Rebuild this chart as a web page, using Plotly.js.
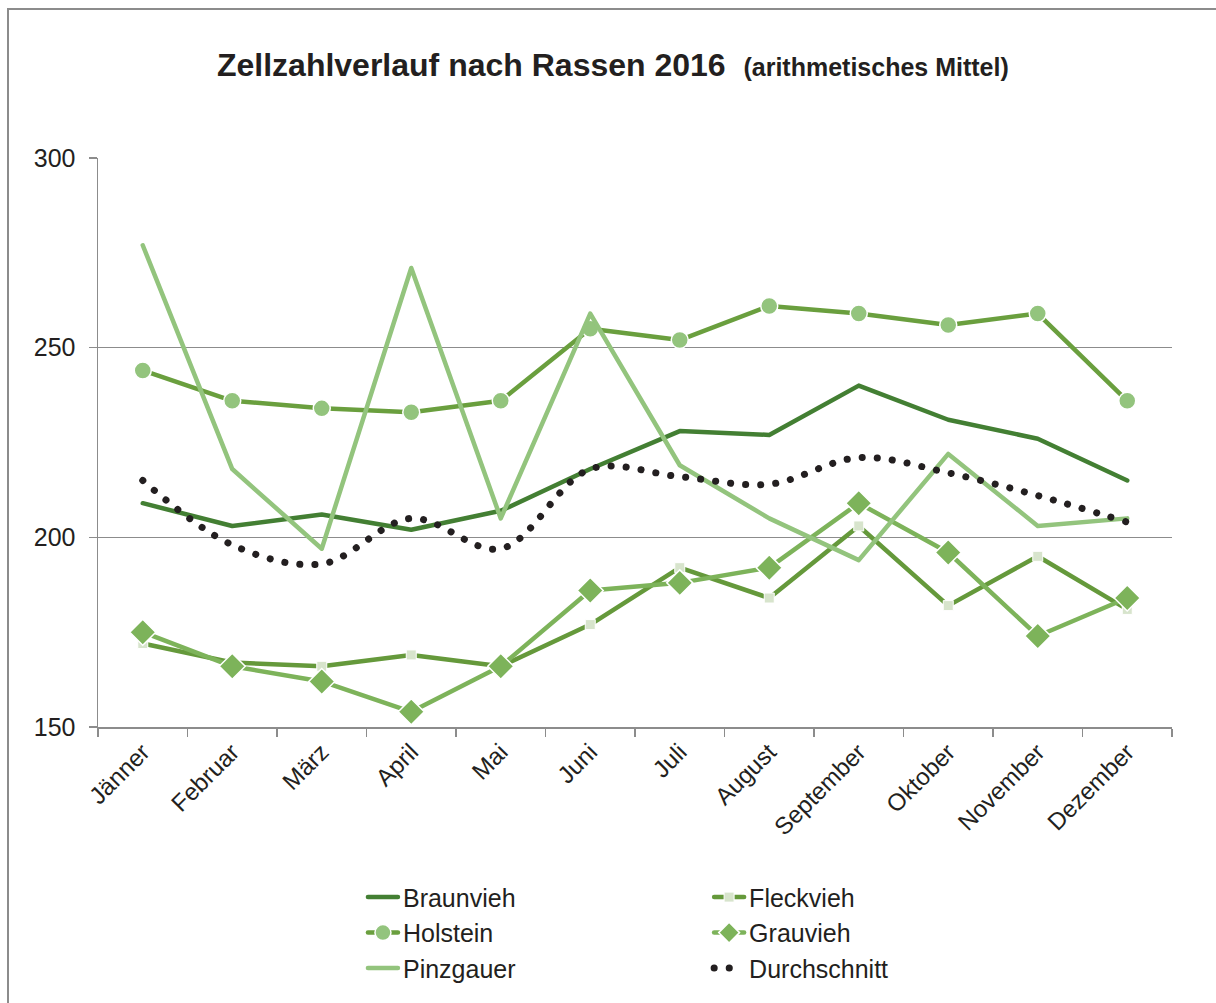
<!DOCTYPE html>
<html>
<head>
<meta charset="utf-8">
<script src="https://cdn.plot.ly/plotly-3.0.1.min.js"></script>
<style>
  html, body { margin: 0; padding: 0; background: #ffffff; }
  #wrap { position: relative; width: 1216px; height: 1003px; }
  #chart { position: absolute; left: 0; top: 0; width: 1216px; height: 1003px; }
  #frame { position: absolute; left: 7px; top: 8px; width: 1220px; height: 1010px;
           border-top: 2px solid #8c8c8c; border-left: 2px solid #8c8c8c; pointer-events: none; }
  .js-line { stroke-linecap: round !important; stroke-linejoin: round !important; }
</style>
</head>
<body>
<div id="wrap">
  <div id="chart"></div>
  <div id="frame"></div>
</div>
<script>
const months = ["Jänner","Februar","März","April","Mai","Juni","Juli","August","September","Oktober","November","Dezember"];

const braunvieh    = [209, 203, 206, 202, 207, 218, 228, 227, 240, 231, 226, 215];
const fleckvieh    = [172, 167, 166, 169, 166, 177, 192, 184, 203, 182, 195, 181];
const holstein     = [244, 236, 234, 233, 236, 255, 252, 261, 259, 256, 259, 236];
const grauvieh     = [175, 166, 162, 154, 166, 186, 188, 192, 209, 196, 174, 184];
const pinzgauer    = [277, 218, 197, 271, 205, 259, 219, 205, 194, 222, 203, 205];
const durchschnitt = [215, 198, 193, 205, 197, 218, 216, 214, 221, 217, 211, 204];

const font = "Liberation Sans, Arial, sans-serif";
const txt = "#231f20";
const grid = "#8c8c8c";

const traces = [
  { name: "Braunvieh", x: months, y: braunvieh, mode: "lines",
    line: { color: "#437f33", width: 4.5 }, legend: "legend" },
  { name: "Fleckvieh", x: months, y: fleckvieh, mode: "lines+markers",
    line: { color: "#65993b", width: 4.5 },
    marker: { symbol: "square", size: 10, color: "#d7e4cc", line: { color: "#ffffff", width: 1 } },
    legend: "legend2" },
  { name: "Holstein", x: months, y: holstein, mode: "lines+markers",
    line: { color: "#6a9f3e", width: 4.5 },
    marker: { symbol: "circle", size: 17, color: "#93c47d", line: { color: "#ffffff", width: 1.5 } },
    legend: "legend" },
  { name: "Grauvieh", x: months, y: grauvieh, mode: "lines+markers",
    line: { color: "#7db35a", width: 4.5 },
    marker: { symbol: "diamond", size: 20, color: "#7db35a", line: { color: "#ffffff", width: 1.5 } },
    legend: "legend2" },
  { name: "Pinzgauer", x: months, y: pinzgauer, mode: "lines",
    line: { color: "#93c47d", width: 4.5 }, legend: "legend" },
  { name: "Durchschnitt", x: months, y: durchschnitt, mode: "lines",
    line: { color: "#231f20", width: 7, dash: "0.1px,15px", shape: "spline", smoothing: 1 },
    legend: "legend2" }
];

const legendCommon = {
  orientation: "v", xanchor: "left", yanchor: "top",
  font: { family: font, size: 25, color: txt },
  bgcolor: "rgba(0,0,0,0)", tracegroupgap: 0, itemwidth: 30
};

const layout = {
  width: 1216, height: 1003,
  margin: { l: 98, r: 44, t: 158, b: 276 },
  paper_bgcolor: "#ffffff", plot_bgcolor: "#ffffff",
  hovermode: false,
  showlegend: true,
  title: {
    text: "<b>Zellzahlverlauf nach Rassen 2016</b>  <b><span style='font-size:25px'>(arithmetisches Mittel)</span></b>",
    font: { family: font, size: 32, color: txt },
    x: 0.504, xanchor: "center", y: 0.935, yanchor: "middle"
  },
  xaxis: {
    type: "category", range: [-0.5, 11.5],
    showgrid: false, zeroline: false,
    showline: true, linecolor: grid, linewidth: 1.5,
    ticks: "outside", tickson: "boundaries", ticklen: 8, tickcolor: grid, tickwidth: 1.5,
    tickangle: -45,
    tickfont: { family: font, size: 24, color: txt }
  },
  yaxis: {
    range: [150, 300], tickvals: [150, 200, 250, 300],
    showgrid: true, gridcolor: grid, gridwidth: 1.5, zeroline: false,
    showline: true, linecolor: grid, linewidth: 1.5,
    ticks: "outside", ticklen: 8, tickcolor: grid, tickwidth: 1.5,
    ticklabelstandoff: 8,
    tickfont: { family: font, size: 25, color: txt }
  },
  legend: Object.assign({}, legendCommon, { x: 0.2467, y: -0.259 }),
  legend2: Object.assign({}, legendCommon, { x: 0.569, y: -0.259 })
};

Plotly.newPlot("chart", traces, layout, { displayModeBar: false, staticPlot: true });
</script>
</body>
</html>
